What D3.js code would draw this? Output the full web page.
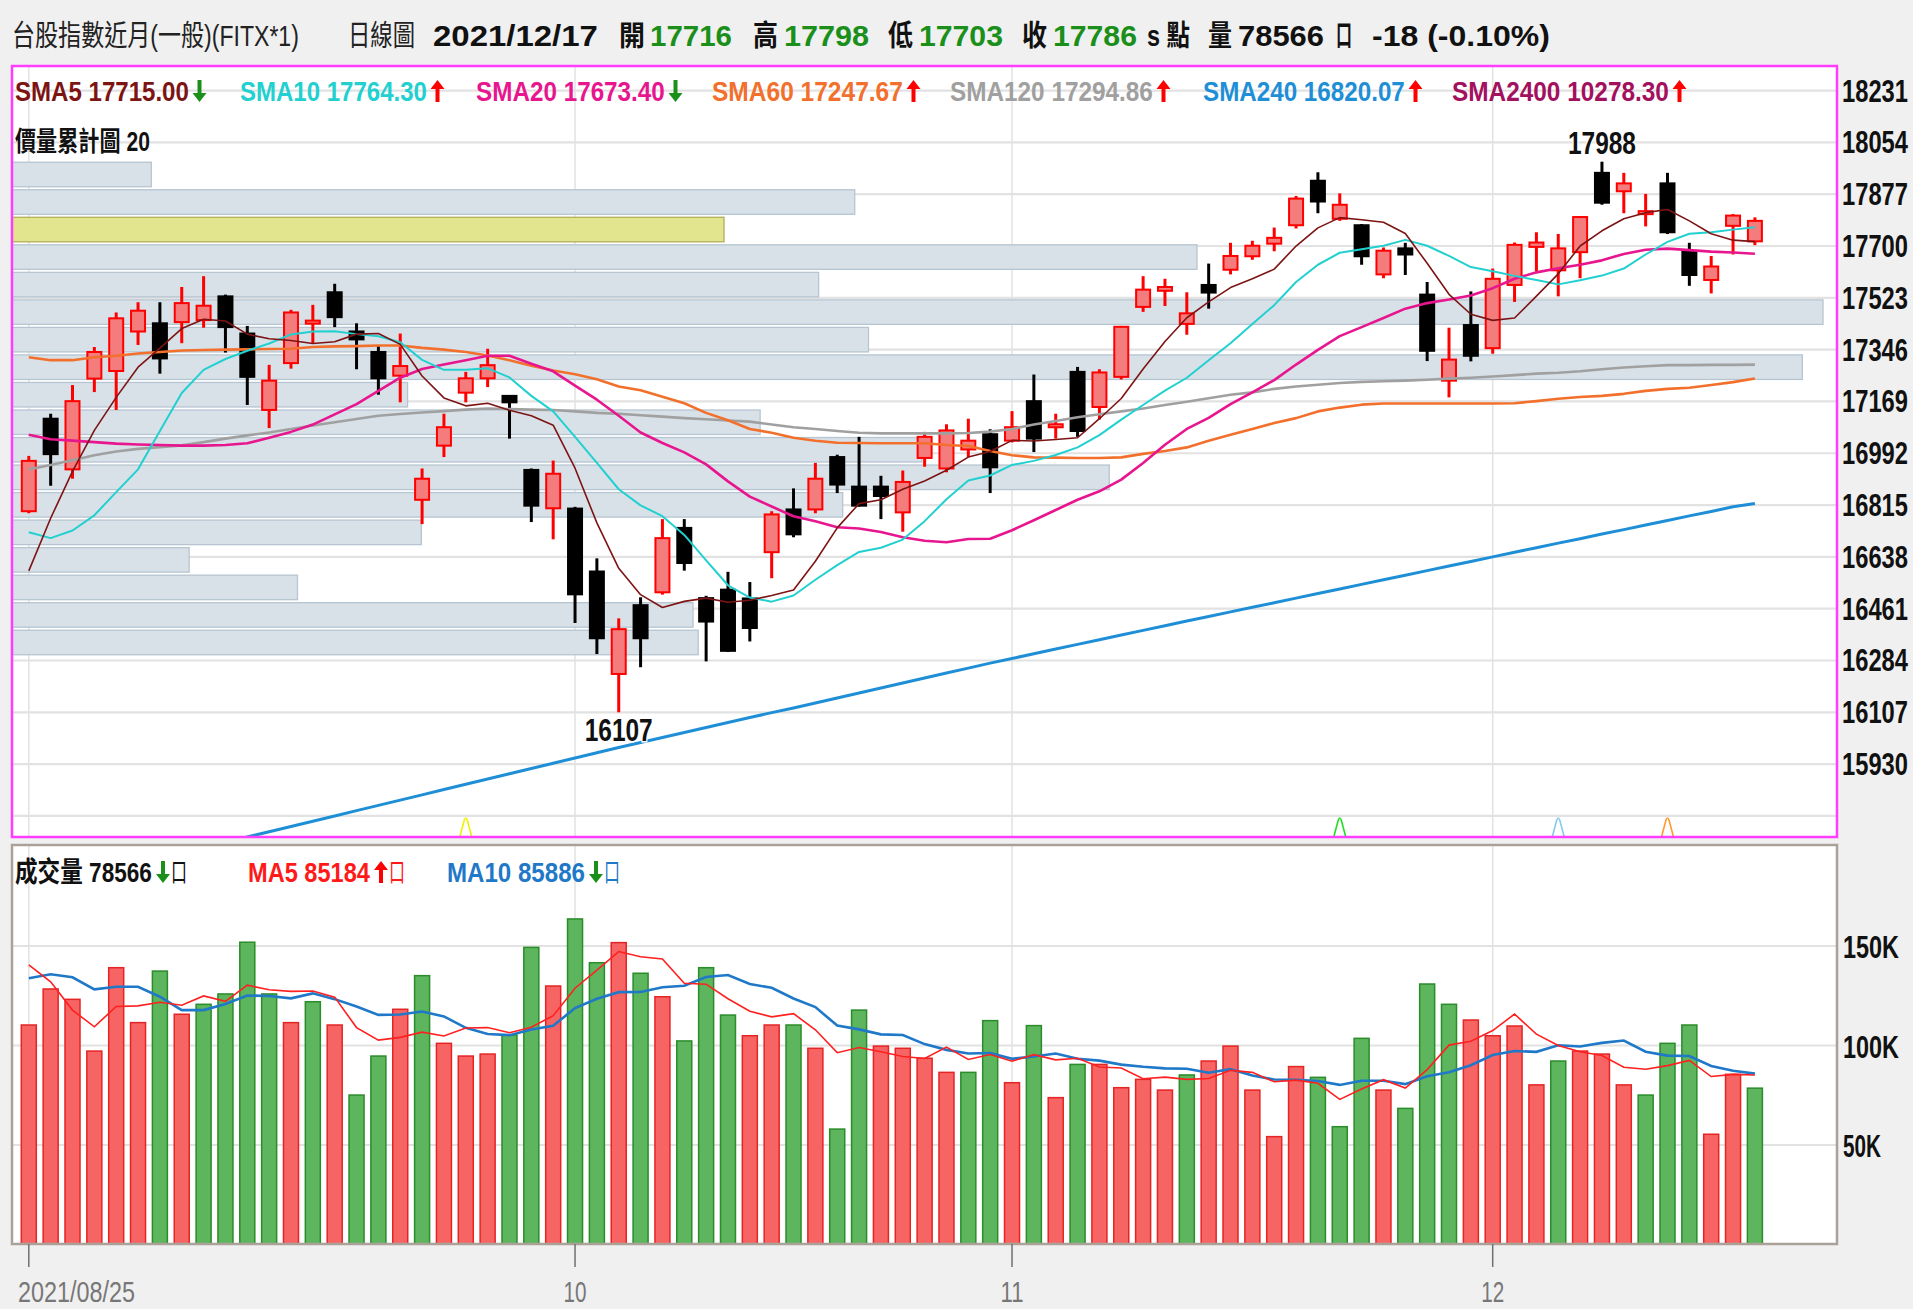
<!DOCTYPE html>
<html><head><meta charset="utf-8">
<script src="https://cdn.jsdelivr.net/npm/d3@7/dist/d3.min.js"></script>
<style>
html,body{margin:0;padding:0;background:#f0f0f0;overflow:hidden;}
svg{display:block;}
</style></head><body>
<svg id="chart" width="1913" height="1309"></svg>
<script>
// ---------------- DATA ----------------
const dates = [
"2021/08/25","2021/08/26","2021/08/27","2021/08/30","2021/08/31",
"2021/09/01","2021/09/02","2021/09/03","2021/09/06","2021/09/07","2021/09/08","2021/09/09","2021/09/10","2021/09/13","2021/09/14","2021/09/15","2021/09/16","2021/09/17","2021/09/22","2021/09/23","2021/09/24","2021/09/27","2021/09/28","2021/09/29","2021/09/30",
"2021/10/01","2021/10/04","2021/10/05","2021/10/06","2021/10/07","2021/10/08","2021/10/12","2021/10/13","2021/10/14","2021/10/15","2021/10/18","2021/10/19","2021/10/20","2021/10/21","2021/10/22","2021/10/25","2021/10/26","2021/10/27","2021/10/28","2021/10/29",
"2021/11/01","2021/11/02","2021/11/03","2021/11/04","2021/11/05","2021/11/08","2021/11/09","2021/11/10","2021/11/11","2021/11/12","2021/11/15","2021/11/16","2021/11/17","2021/11/18","2021/11/19","2021/11/22","2021/11/23","2021/11/24","2021/11/25","2021/11/26","2021/11/29","2021/11/30",
"2021/12/01","2021/12/02","2021/12/03","2021/12/06","2021/12/07","2021/12/08","2021/12/09","2021/12/10","2021/12/13","2021/12/14","2021/12/15","2021/12/16","2021/12/17"];

const opens = [16794,17110,16937,17247,17273,17408,17436,17440,17447,17528,
17401,17140,17300,17436,17542,17408,17338,17257,16833,17018,
17199,17248,17188,16935,16804,16803,16588,16238,16473,16517,
16737,16497,16526,16496,16654,16800,16800,16979,16878,16878,
16790,16976,16940,17005,17057,17035,17170,17081,17270,17150,
17253,17492,17547,17434,17567,17619,17665,17708,17771,17923,
17793,17771,17603,17692,17534,17240,17430,17351,17567,17697,
17617,17679,17950,17887,17810,17914,17682,17584,17769,17716];
const highs = [16983,17127,17225,17355,17473,17508,17508,17560,17597,17534,
17427,17294,17482,17499,17571,17436,17358,17401,16940,17127,
17270,17349,17190,16940,16967,16809,16633,16428,16500,16767,
16767,16505,16587,16552,16794,16872,16959,16987,17048,16915,
16933,17065,17091,17110,17074,17136,17261,17127,17287,17279,
17427,17597,17588,17542,17640,17711,17718,17763,17871,17952,
17880,17775,17695,17711,17577,17421,17545,17623,17712,17747,
17741,17802,17988,17950,17878,17950,17711,17666,17809,17798];
const lows = [16787,16881,16905,17201,17140,17362,17264,17368,17421,17336,
17157,17078,17281,17368,17423,17279,17192,17166,16750,16979,
17166,17218,17042,16757,16698,16412,16306,16107,16261,16509,
16591,16281,16313,16349,16565,16705,16787,16856,16810,16767,
16724,16946,16927,16979,16856,17029,16996,17042,17048,17107,
17244,17475,17495,17397,17486,17603,17653,17682,17760,17812,
17786,17636,17590,17601,17307,17183,17306,17332,17509,17614,
17528,17590,17841,17812,17767,17741,17564,17538,17671,17703];
const closes = [16966,16989,17170,17338,17453,17479,17316,17505,17496,17423,
17253,17240,17473,17444,17457,17381,17248,17290,16905,17081,
17248,17293,17166,16813,16922,16510,16360,16391,16360,16702,
16617,16417,16317,16395,16783,16715,16905,16885,16813,16846,
16894,17048,17070,17035,16944,17081,17042,17091,17068,17268,
17424,17551,17560,17470,17541,17666,17701,17728,17862,17852,
17841,17665,17684,17671,17342,17312,17325,17588,17704,17712,
17692,17799,17848,17914,17818,17747,17601,17630,17804,17786];
const volumes = [110300,128400,123200,97200,139100,111500,137400,115700,120700,125900,
151900,125900,111500,122000,110300,75100,94700,118200,135100,101100,
94700,95700,105300,149300,129900,163600,141600,151700,136300,124500,
102300,139100,115300,104900,110300,110300,98600,58000,117800,99700,
98600,93600,86500,86500,112500,81300,110000,73800,90500,90500,
78800,83000,77600,85200,92200,99700,77600,54200,89400,84000,
59200,103600,77600,68400,130900,120700,112800,104900,109800,80200,
92200,97200,95700,80200,75100,101100,110300,55400,85500,78566];

const sma5 = [16590,16770,16930,17070,17183,17286,17351,17418,17450,17444,
17399,17383,17377,17367,17373,17399,17401,17364,17256,17181,
17154,17163,17139,17120,17088,16941,16754,16599,16509,16465,
16486,16497,16483,16490,16506,16525,16623,16737,16820,16833,
16869,16897,16934,16979,16998,17036,17034,17039,17045,17110,
17179,17280,17374,17455,17509,17558,17588,17621,17700,17762,
17797,17790,17781,17743,17641,17535,17467,17446,17454,17529,
17605,17700,17752,17793,17814,17825,17786,17742,17720,17715];
const sma10 = [16722,16702,16728,16780,16859,16937,17068,17198,17277,17314,
17342,17367,17398,17408,17409,17399,17392,17371,17311,17277,
17277,17282,17251,17188,17135,17048,16959,16869,16814,16777,
16713,16626,16541,16499,16485,16506,16560,16610,16655,16669,
16697,16760,16835,16899,16916,16952,16966,16986,17012,17054,
17107,17157,17206,17250,17310,17368,17434,17498,17577,17636,
17677,17689,17701,17721,17701,17666,17628,17614,17598,17584,
17569,17583,17599,17623,17671,17714,17742,17747,17756,17764.3];
const sma20 = [17055,17040,17035,17030,17025,17022,17020,17018,17018,17020,
17026,17045,17065,17090,17125,17160,17205,17250,17280,17295,
17310,17325,17325,17298,17272,17223,17175,17120,17063,17027,
16995,16954,16896,16844,16810,16777,16760,16739,16735,16723,
16705,16693,16688,16699,16700,16729,16763,16798,16833,16862,
16902,16959,17021,17075,17113,17160,17200,17242,17295,17345,
17392,17423,17454,17486,17505,17517,17531,17556,17588,17610,
17624,17636,17651,17673,17687,17691,17686,17681,17678,17673.4];
const sma60 = [17320,17310,17310,17320,17325,17333,17338,17343,17345,17346,
17347,17348,17349,17355,17357,17358,17360,17360,17352,17346,
17338,17326,17310,17291,17275,17262,17245,17220,17207,17185,
17163,17130,17105,17075,17062,17045,17035,17028,17027,17026,
17026,17026,17020,17017,17000,16985,16978,16977,16976,16976,
16978,16990,17000,17012,17035,17055,17075,17095,17112,17135,
17148,17158,17162,17162,17162,17162,17162,17162,17163,17170,
17178,17184,17188,17195,17205,17212,17216,17225,17235,17247.67];
const sma120 = [16937,16952,16968,16985,16998,17007,17013,17019,17030,17042,
17053,17063,17075,17087,17098,17109,17120,17126,17131,17136,
17141,17145,17143,17141,17140,17135,17130,17127,17122,17117,
17112,17108,17104,17100,17090,17081,17075,17068,17062,17060,
17060,17060,17060,17061,17066,17075,17090,17102,17115,17125,
17135,17145,17157,17168,17180,17192,17200,17212,17220,17226,
17232,17236,17238,17240,17243,17247,17250,17254,17259,17264,
17267,17272,17279,17285,17289,17293,17293,17294,17294,17294.86];
const sma240 = [15496,15515,15533,15552,15570,15589,15607,15626,15644,15663,
15681,15699,15717,15735,15753,15771,15789,15807,15825,15843,
15861,15879,15897,15915,15933,15951,15969,15987,16004,16021,
16038,16055,16072,16089,16106,16122,16139,16156,16173,16190,
16207,16224,16241,16258,16275,16291,16307,16323,16339,16355,
16371,16387,16403,16419,16434,16450,16466,16481,16497,16513,
16528,16544,16560,16575,16591,16607,16622,16638,16654,16669,
16685,16700,16716,16731,16747,16762,16778,16793,16809,16820.07];

const volMa5 = [140500,132000,117800,109400,119600,119900,121700,120200,124900,122200,
130300,128000,127200,127400,124300,109000,102700,104100,106700,104800,
108800,109000,106400,109200,115000,128800,137900,147200,144600,143500,
131300,130800,123500,117200,114400,116000,107900,96400,99000,96900,
94500,93500,99200,93000,95500,92100,95400,92800,93600,89200,
88700,83300,84100,83000,83400,87500,86500,81800,82600,81000,
72900,78100,82800,78600,87900,100200,102100,107500,115800,105700,
100000,96900,95000,89100,88100,89900,92500,84400,85500,85184];
const volMa10 = [133800,135800,134300,128200,129500,129500,124500,117800,117800,120900,
125100,124900,123700,126200,123300,119600,115400,115600,117100,114600,
108900,105800,105200,108000,109900,118800,123500,126800,126900,129300,
130000,134400,135400,130900,129000,123600,119300,110000,108100,105600,
105300,100700,97800,96000,96200,93300,94500,96000,93300,92400,
90400,89300,88500,88300,86300,88100,84900,82900,82800,82200,
80200,82300,82300,80600,84500,86600,90100,95200,97200,96800,
100100,99500,101300,102500,96900,94900,94700,89700,87300,85886];

// accumulated volume by price, 20 bins, highest price bin first
const profileVolumes = [81000,490000,414000,689000,469000,1053000,498000,1041000,230000,435000,
529000,638000,483000,238000,103000,166000,396000,399000,0,0];
const profileBins = 20;

const priceGridTicks = [15753,15930,16107,16284,16461,16638,16815,16992,17169,17346,17523,17700,17877,18054,18231];
const priceTickLabels = [15930,16107,16284,16461,16638,16815,16992,17169,17346,17523,17700,17877,18054,18231];
const volumeTicks = [50000,100000,150000];
const volumeTickLabels = ["50K","100K","150K"];
const tickDates = ["2021/08/25","2021/10/01","2021/11/01","2021/12/01"];
const tickLabels = ["2021/08/25","10","11","12"];

const signalDates = ["2021/09/24","2021/11/22","2021/12/06","2021/12/13"];
const signalColors = ["#f0f000","#22dd22","#86c8ee","#ff9a33"];

const maNames = ["SMA5","SMA10","SMA20","SMA60","SMA120","SMA240","SMA2400"];
const maLegendValues = ["17715.00","17764.30","17673.40","17247.67","17294.86","16820.07","10278.30"];
const maLegendUp = [false,true,false,true,true,true,true];
const maColors = ["#7d1414","#22d0d0","#e8168e","#f2702c","#a0a0a0","#1e8fd6","#a3105e"];

const volLegendNames = ["成交量","MA5","MA10"];
const volLegendValues = ["78566","85184","85886"];
const volLegendUp = [false,true,false];
const volLegendColors = ["#111111","#ff1a1a","#1f78c8"];

// ---------------- LAYOUT ----------------
const NUM = "'Liberation Sans Narrow','Arial Narrow','Liberation Sans',Arial,sans-serif";
const CJK = "'Liberation Sans Narrow','Liberation Sans','Noto Sans CJK TC','Noto Sans CJK SC',sans-serif";
const GREEN = "#1a8f1a", UPRED = "#ff0000";

const svg = d3.select('#chart');
const P = {l:12, r:1837, t:66, b:837};
const VP = {t:845, b:1244};

const x = d3.scalePoint().domain(dates).range([28.8, 1754.9]);
const y = d3.scaleLinear().domain([15681, 18315]).range([P.b, P.t]);
const yv = d3.scaleLinear().domain([0, 150000]).range([1244.5, 946]);
const idx = d3.range(dates.length);

// text squeezed horizontally to a target width (condensed look)
function txt(g, str, px, py, o) {
  o = o || {};
  const gg = g.append('g').attr('transform', `translate(${px},${py})`);
  const t = gg.append('text').attr('x', 0).attr('y', 0).text(str)
    .attr('font-family', o.family || NUM)
    .attr('font-size', o.size || 28)
    .attr('font-weight', o.weight || 'bold')
    .attr('fill', o.fill || '#111')
    .attr('text-anchor', o.anchor || 'start');
  if (o.w) {
    const L = t.node().getComputedTextLength();
    if (L > 0) t.attr('transform', `scale(${(o.w / L).toFixed(4)},1)`);
  }
  return t;
}
function arrow(g, cx, top, bottom, up, color) {
  const hw = 7, hh = 9, sw = 2;
  let d;
  if (up) d = `M${cx},${top} L${cx+hw},${top+hh} L${cx+sw},${top+hh} L${cx+sw},${bottom} L${cx-sw},${bottom} L${cx-sw},${top+hh} L${cx-hw},${top+hh} Z`;
  else d = `M${cx},${bottom} L${cx+hw},${bottom-hh} L${cx+sw},${bottom-hh} L${cx+sw},${top} L${cx-sw},${top} L${cx-sw},${bottom-hh} L${cx-hw},${bottom-hh} Z`;
  g.append('path').attr('d', d).attr('fill', color);
}

svg.append('rect').attr('width',1913).attr('height',1309).attr('fill','#f0f0f0');
svg.append('rect').attr('x',P.l).attr('y',P.t).attr('width',P.r-P.l).attr('height',P.b-P.t).attr('fill','#fff');
svg.append('rect').attr('x',P.l).attr('y',VP.t).attr('width',P.r-P.l).attr('height',VP.b-VP.t).attr('fill','#fff');

const defs = svg.append('defs');
defs.append('clipPath').attr('id','clipMain').append('rect')
  .attr('x',P.l).attr('y',P.t).attr('width',P.r-P.l).attr('height',P.b-P.t);
defs.append('clipPath').attr('id','clipVol').append('rect')
  .attr('x',P.l).attr('y',VP.t).attr('width',P.r-P.l).attr('height',VP.b-VP.t);

// ---------- main panel ----------
const gMain = svg.append('g').attr('clip-path','url(#clipMain)');
gMain.selectAll('line.hg').data(priceGridTicks).join('line')
  .attr('x1',P.l).attr('x2',P.r).attr('y1',d=>y(d)).attr('y2',d=>y(d))
  .attr('stroke','#e2e2e2').attr('stroke-width',2.2);
gMain.selectAll('line.vg').data(tickDates).join('line')
  .attr('x1',d=>x(d)).attr('x2',d=>x(d)).attr('y1',P.t).attr('y2',P.b)
  .attr('stroke','#e2e2e2').attr('stroke-width',1.5);

// volume-by-price profile
const pHi = d3.max(highs), pLo = d3.min(lows);
const binSize = (pHi - pLo) / profileBins;
const xProf = d3.scaleLinear().domain([0, d3.max(profileVolumes)]).range([0, 1811]);
const lastClose = closes[closes.length-1];
const inBin = k => lastClose <= pHi - k*binSize && lastClose > pHi-(k+1)*binSize;
gMain.selectAll('rect.prof').data(profileVolumes).join('rect')
  .attr('x', P.l)
  .attr('y', (v,k) => y(pHi - k*binSize) + 0.5)
  .attr('height', (v,k) => y(pHi - (k+1)*binSize) - y(pHi - k*binSize) - 3)
  .attr('width', v => xProf(v))
  .attr('fill', (v,k) => inBin(k) ? '#e2e58e' : '#d8e1e8')
  .attr('stroke', (v,k) => inBin(k) ? '#b0ae58' : '#b6c5d1')
  .attr('stroke-width', 1.3)
  .attr('display', v => v > 0 ? null : 'none');

// candles
const isUp = i => closes[i] >= opens[i];
gMain.selectAll('line.wick').data(idx).join('line')
  .attr('x1', i=>x(dates[i])).attr('x2', i=>x(dates[i]))
  .attr('y1', i=>y(highs[i])).attr('y2', i=>y(lows[i]))
  .attr('stroke', i=> isUp(i) ? UPRED : '#000').attr('stroke-width', 3);
gMain.selectAll('rect.body').data(idx).join('rect')
  .attr('x', i=>x(dates[i]) - 7).attr('width', 14)
  .attr('y', i=> { const a=y(Math.max(opens[i],closes[i])), b=y(Math.min(opens[i],closes[i])); return (b-a<3) ? (a+b)/2-1.5 : a; })
  .attr('height', i=> Math.max(3, y(Math.min(opens[i],closes[i])) - y(Math.max(opens[i],closes[i]))))
  .attr('fill', i=> isUp(i) ? '#f57c7c' : '#000')
  .attr('stroke', i=> isUp(i) ? UPRED : '#000').attr('stroke-width', 2);

// moving averages
const maSeries = [
  {v: sma240, c: maColors[5], w: 3},
  {v: sma120, c: maColors[4], w: 2.6},
  {v: sma60,  c: maColors[3], w: 2.6},
  {v: sma20,  c: maColors[2], w: 2.6},
  {v: sma10,  c: maColors[1], w: 2},
  {v: sma5,   c: maColors[0], w: 1.6}
];
const lineGen = d3.line().x((d,i)=>x(dates[i])).y(d=>y(d));
maSeries.forEach(s => {
  gMain.append('path').datum(s.v).attr('d', lineGen)
    .attr('fill','none').attr('stroke', s.c).attr('stroke-width', s.w).attr('stroke-linejoin','round');
});

// signal markers
signalDates.forEach((d,k) => {
  const cx = x(d);
  gMain.append('path').attr('d', `M${cx-6},${P.b} L${cx-1.5},${P.b-17} Q${cx},${P.b-21} ${cx+1.5},${P.b-17} L${cx+6},${P.b}`)
    .attr('fill','none').attr('stroke', signalColors[k]).attr('stroke-width',1.6);
});

// high / low labels
const iMax = d3.maxIndex(highs), iMin = d3.minIndex(lows);
txt(svg, String(highs[iMax]), x(dates[iMax]), y(highs[iMax]) - 8, {size:31, w:68, anchor:'middle'})
  .attr('stroke','#fff').attr('stroke-width',3).attr('paint-order','stroke');
txt(svg, String(lows[iMin]), x(dates[iMin]), y(lows[iMin]) + 29, {size:31, w:68, anchor:'middle'})
  .attr('stroke','#fff').attr('stroke-width',3).attr('paint-order','stroke');

// main panel border
svg.append('rect').attr('x',P.l).attr('y',P.t).attr('width',P.r-P.l).attr('height',P.b-P.t)
  .attr('fill','none').attr('stroke','#ff3cff').attr('stroke-width',2.5);

// price axis labels
priceTickLabels.forEach(t => txt(svg, String(t), 1842, y(t) + 11, {size:31, w:66}));

// MA legend
const maLegendX = [15, 240, 476, 712, 950, 1203, 1452];
const maLegendW = [174, 187, 189, 191, 203, 202, 217];
maNames.forEach((n,k) => {
  txt(svg, `${n} ${maLegendValues[k]}`, maLegendX[k], 101, {size:27, w:maLegendW[k], fill:maColors[k]});
  arrow(svg, maLegendX[k] + maLegendW[k] + 10.5, 80, 102, maLegendUp[k], maLegendUp[k] ? UPRED : GREEN);
});
txt(svg, `價量累計圖 ${profileBins}`, 15, 151, {size:27, w:135, family:CJK, fill:'#111'});

// ---------- header ----------
const n = closes.length - 1;
const chg = closes[n] - closes[n-1];
const header = [
  {t:'台股指數近月(一般)(FITX*1)', x:12, w:287, wt:'normal', f:'#222'},
  {t:'日線圖', x:348, w:67, wt:'normal', f:'#222'},
  {t:dates[n], x:433, w:165},
  {t:'開', x:619, w:26}, {t:String(opens[n]), x:650, w:82, f:GREEN},
  {t:'高', x:753, w:25}, {t:String(highs[n]), x:784, w:85, f:GREEN},
  {t:'低', x:888, w:25}, {t:String(lows[n]), x:919, w:84, f:GREEN},
  {t:'收', x:1022, w:25}, {t:String(closes[n]), x:1053, w:84, f:GREEN},
  {t:'s 點', x:1147, w:43},
  {t:'量', x:1208, w:24}, {t:String(volumes[n]), x:1238, w:86},
  {t:'口', x:1336, w:16},
  {t:`${chg} (${(chg/closes[n-1]*100).toFixed(2)}%)`, x:1372, w:178}
];
header.forEach(h => txt(svg, h.t, h.x, 46, {size:29, w:h.w, weight:h.wt||'bold', fill:h.f||'#111', family:CJK}));

// ---------- volume panel ----------
const gVol = svg.append('g').attr('clip-path','url(#clipVol)');
gVol.selectAll('line.vh').data(volumeTicks).join('line')
  .attr('x1',P.l).attr('x2',P.r).attr('y1',d=>yv(d)).attr('y2',d=>yv(d))
  .attr('stroke','#e2e2e2').attr('stroke-width',2.2);
gVol.selectAll('line.vv').data(tickDates).join('line')
  .attr('x1',d=>x(d)).attr('x2',d=>x(d)).attr('y1',VP.t).attr('y2',VP.b)
  .attr('stroke','#e2e2e2').attr('stroke-width',1.5);
const volUp = i => i === 0 || closes[i] >= closes[i-1];
gVol.selectAll('rect.vb').data(idx).join('rect')
  .attr('x', i=>x(dates[i]) - 7.5).attr('width', 15)
  .attr('y', i=>yv(volumes[i])).attr('height', i=> VP.b - yv(volumes[i]))
  .attr('fill', i=> volUp(i) ? '#f76464' : '#5db55d')
  .attr('stroke', i=> volUp(i) ? '#e52424' : '#2a8c2a').attr('stroke-width', 1.5);
const vLine = d3.line().x((d,i)=>x(dates[i])).y(d=>yv(d));
gVol.append('path').datum(volMa10).attr('d', vLine).attr('fill','none').attr('stroke','#1f78c8').attr('stroke-width',2.6);
gVol.append('path').datum(volMa5).attr('d', vLine).attr('fill','none').attr('stroke','#ff2020').attr('stroke-width',1.6);

svg.append('rect').attr('x',P.l).attr('y',VP.t).attr('width',P.r-P.l).attr('height',VP.b-VP.t)
  .attr('fill','none').attr('stroke','#aaa199').attr('stroke-width',2.5);

volumeTicks.forEach((t,k) => txt(svg, volumeTickLabels[k], 1843, yv(t) + 12, {size:31, w: volumeTickLabels[k].length === 3 ? 38 : 56}));

// volume legend
const vlX = [15, 248, 447];
const vlW = [137, 122, 138];
volLegendNames.forEach((nm,k) => {
  txt(svg, `${nm} ${volLegendValues[k]}`, vlX[k], 882, {size:28, w:vlW[k], fill:volLegendColors[k], family:CJK});
  const ax = vlX[k] + vlW[k] + 11;
  arrow(svg, ax, 861, 883, volLegendUp[k], volLegendUp[k] ? UPRED : GREEN);
  txt(svg, '口', ax + 8, 882, {size:26, w:16, weight:'normal', fill:volLegendColors[k], family:CJK});
});

// ---------- date axis ----------
tickDates.forEach((d,k) => {
  const tx = x(d);
  svg.append('line').attr('x1',tx).attr('x2',tx).attr('y1',VP.b).attr('y2',1267)
    .attr('stroke','#707070').attr('stroke-width',1.5);
  if (k === 0) txt(svg, tickLabels[k], 18, 1302, {size:29, w:117, weight:'normal', fill:'#777'});
  else txt(svg, tickLabels[k], tx, 1302, {size:29, w:23, weight:'normal', fill:'#777', anchor:'middle'});
});
</script>
</body></html>
